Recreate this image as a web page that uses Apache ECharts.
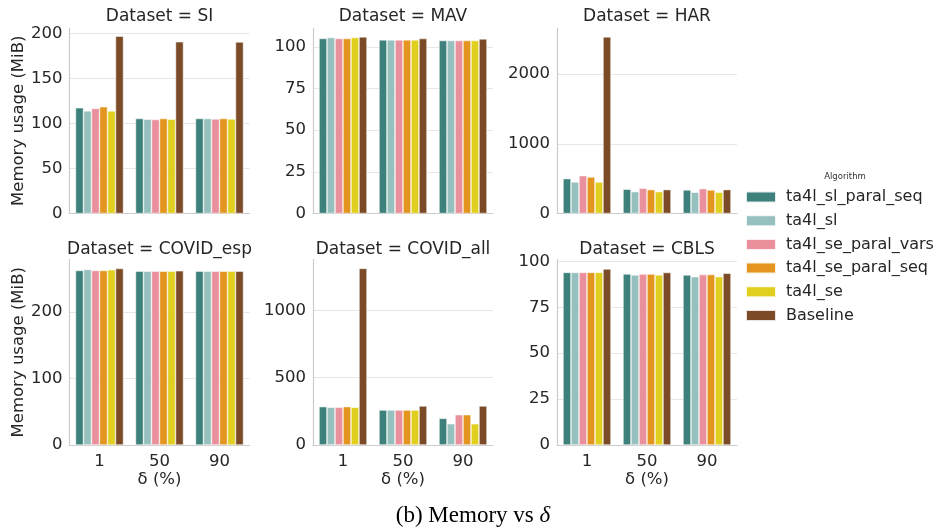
<!DOCTYPE html>
<html>
<head>
<meta charset="utf-8">
<script src="https://cdn.jsdelivr.net/npm/echarts@6/dist/echarts.min.js"></script>
<style>
html, body { margin: 0; padding: 0; background: #ffffff; }
#chart { width: 933px; height: 530px; }
</style>
</head>
<body>
<div id="chart"></div>
<script>
// δ values (x categories) and algorithm names (one bar per algorithm)
const deltas = ['1', '50', '90'];
const algorithms = ['ta4l_sl_paral_seq', 'ta4l_sl', 'ta4l_se_paral_vars', 'ta4l_se_paral_seq', 'ta4l_se', 'Baseline'];
const algorithmColors = ['#3e807b', '#96c0bd', '#ea909c', '#e3951f', '#e0cf1f', '#7b4a26'];

// Memory usage (MiB): one row per algorithm, columns are δ = 1, 50, 90
const memSI = [
  [117.4, 105.5, 105.5],
  [114.0, 104.8, 105.5],
  [116.7, 104.4, 105.0],
  [118.5, 105.5, 105.5],
  [114.0, 104.8, 105.0],
  [197.0, 190.7, 190.5]
];
const memMAV = [
  [105.0, 104.2, 103.8],
  [105.6, 104.2, 103.8],
  [105.0, 104.2, 103.8],
  [105.0, 104.2, 103.8],
  [105.6, 104.2, 103.8],
  [106.0, 105.0, 104.8]
];
const memHAR = [
  [500, 348, 338],
  [452, 314, 305],
  [543, 362, 357],
  [524, 343, 338],
  [452, 314, 305],
  [2533, 343, 343]
];
const memCovidEsp = [
  [262.5, 261.5, 261.5],
  [264.0, 261.5, 261.5],
  [262.5, 261.5, 261.5],
  [262.5, 261.5, 261.5],
  [263.5, 261.5, 261.5],
  [265.5, 262.0, 261.5]
];
const memCovidAll = [
  [285, 260, 198],
  [280, 260, 158],
  [280, 260, 225],
  [285, 260, 225],
  [280, 260, 158],
  [1312, 290, 290]
];
const memCBLS = [
  [94.0, 93.1, 92.6],
  [94.0, 92.6, 91.7],
  [94.0, 93.1, 92.8],
  [94.0, 93.1, 92.8],
  [94.0, 92.6, 91.7],
  [95.8, 93.9, 93.5]
];

const datasetNames = ['SI', 'MAV', 'HAR', 'COVID_esp', 'COVID_all', 'CBLS'];
const datasetValues = [memSI, memMAV, memHAR, memCovidEsp, memCovidAll, memCBLS];
// y-axis upper limits and tick steps per panel
const yMax = [206, 111.3, 2660, 279, 1378, 101];
const yStep = [50, 25, 1000, 100, 500, 25];

// facet layout (3 columns x 2 rows)
const colLeft = [69.5, 313, 557];
const rowTop = [28, 259.5];
const panelW = 180;
const panelH = 185.5;

const textColor = '#262626';
const spineColor = '#cccccc';
const gridColor = '#e6e6e6';
const sansFont = '"DejaVu Sans", sans-serif';
const labelSize = 16.5;

const grids = [], xAxes = [], yAxes = [], series = [], graphics = [];

datasetNames.forEach(function (ds, p) {
  const col = p % 3, row = Math.floor(p / 3);
  const bottomRow = row === 1, leftCol = col === 0;
  grids.push({ left: colLeft[col], top: rowTop[row], width: panelW, height: panelH, containLabel: false });

  xAxes.push({
    type: 'category', gridIndex: p, data: deltas,
    axisLine: { show: true, lineStyle: { color: spineColor, width: 1.2 } },
    axisTick: { show: false },
    axisLabel: { show: bottomRow, fontSize: labelSize, color: textColor, margin: 8, fontFamily: sansFont },
    name: bottomRow ? 'δ (%)' : '',
    nameLocation: 'middle', nameGap: 26,
    nameTextStyle: { fontSize: labelSize, color: textColor, fontFamily: sansFont },
    splitLine: { show: false }
  });

  const step = yStep[p];
  yAxes.push({
    type: 'value', gridIndex: p, min: 0, max: yMax[p], interval: step,
    axisLine: { show: true, lineStyle: { color: spineColor, width: 1.2 } },
    axisTick: { show: false },
    axisLabel: {
      fontSize: labelSize, color: textColor, margin: 7, fontFamily: sansFont,
      showMaxLabel: false,
      formatter: function (v) { return (Math.abs(v / step - Math.round(v / step)) < 1e-6) ? String(v) : ''; }
    },
    splitLine: { show: true, showMinLine: false, showMaxLine: false, lineStyle: { color: gridColor, width: 1 } },
    name: leftCol ? 'Memory usage (MiB)' : '',
    nameLocation: 'middle', nameGap: 41,
    nameTextStyle: { fontSize: labelSize, color: textColor, fontFamily: sansFont }
  });

  algorithms.forEach(function (alg, a) {
    series.push({
      type: 'bar', name: alg, xAxisIndex: p, yAxisIndex: p,
      data: datasetValues[p][a],
      barGap: '0%', barCategoryGap: '20%',
      itemStyle: { color: algorithmColors[a], borderColor: 'rgba(255,255,255,0.85)', borderWidth: 0.6 },
      emphasis: { disabled: true },
      silent: true
    });
  });

  graphics.push({
    type: 'text', x: colLeft[col] + panelW / 2, y: rowTop[row] - (bottomRow ? 10 : 11.5),
    style: {
      text: 'Dataset = ' + ds, fill: textColor,
      font: '17px ' + sansFont, align: 'center', verticalAlign: 'middle',
      textAlign: 'center', textVerticalAlign: 'middle'
    }
  });
});

// legend heading
graphics.push({
  type: 'text', x: 845, y: 177,
  style: { text: 'Algorithm', fill: '#333333', font: '8.5px ' + sansFont,
    align: 'center', verticalAlign: 'middle', textAlign: 'center', textVerticalAlign: 'middle' }
});

// figure caption
graphics.push({
  type: 'text', x: 473, y: 516,
  style: {
    text: '(b) Memory vs {i|δ}', fill: '#000000',
    font: '23px "Liberation Serif", serif',
    align: 'center', verticalAlign: 'middle', textAlign: 'center', textVerticalAlign: 'middle',
    rich: { i: { fontStyle: 'italic', fontSize: 23, fontFamily: '"Liberation Serif", serif', fill: '#000000' } }
  }
});

const chart = echarts.init(document.getElementById('chart'), null, { renderer: 'canvas' });
chart.setOption({
  animation: false,
  backgroundColor: '#ffffff',
  grid: grids,
  xAxis: xAxes,
  yAxis: yAxes,
  series: series,
  legend: {
    data: algorithms,
    orient: 'vertical', left: 745, top: 189,
    icon: 'rect', itemWidth: 30, itemHeight: 11, itemGap: 7.7,
    padding: 0,
    selectedMode: false,
    textStyle: { fontSize: 16, color: textColor, fontFamily: sansFont, lineHeight: 16, padding: [0, 0, 0, 5] }
  },
  graphic: graphics
});
</script>
</body>
</html>
